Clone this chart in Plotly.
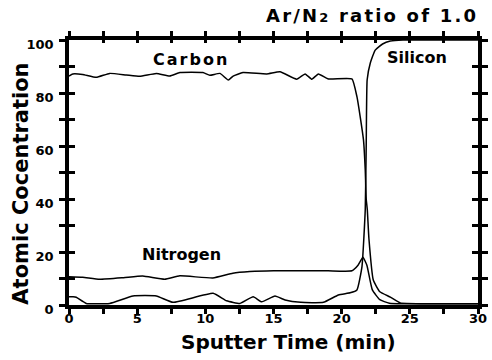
import plotly.graph_objects as go

# ---- data ----
carbon_t = [0, 0.28, 1.0, 2.0, 2.98, 4.2, 5.18, 6.41, 7.39, 8.13, 9.82, 10.33, 11.07, 11.68,
            12.04, 12.76, 14.5, 15.48, 16.7, 17.32, 17.81, 18.29, 19.03, 20.75, 21.12, 21.36,
            21.6, 21.73, 21.8, 21.88, 22.0, 22.32, 22.8, 23.57, 24.3, 26.0, 28.0, 30.0]
carbon_v = [86.4, 87.2, 87.0, 85.9, 87.4, 86.8, 86.3, 87.4, 86.4, 87.7, 87.7, 86.7, 87.4, 84.9,
            86.4, 87.7, 87.2, 88.0, 85.2, 87.2, 85.2, 87.2, 85.3, 85.3, 78.6, 71.0,
            62.3, 50.9, 40.0, 36.0, 25.0, 9.4, 5.0, 3.0, 0.8, 0.5, 0.5, 0.5]

silicon_t = [0, 0.3, 0.53, 1.26, 2.98, 4.69, 6.41, 7.63, 10.57, 11.56, 12.54, 13.51, 14.13,
             15.11, 15.85, 17.0, 18.66, 19.76, 20.62, 21.12, 21.49, 21.73, 21.8, 21.87,
             22.1, 22.46, 23.0, 23.57, 24.5, 30.0]
silicon_v = [3.1, 3.1, 2.9, 0.6, 0.6, 3.4, 3.4, 1.0, 4.4, 1.6, 0.6, 3.1, 1.2,
             3.4, 1.9, 1.0, 1.0, 3.8, 4.6, 5.7, 14.5, 36.0, 60.0, 85.0,
             91.3, 96.2, 98.5, 99.6, 100.0, 100.0]

nitrogen_t = [0, 1.0, 2.24, 4.0, 5.4, 7.02, 8.13, 10.55, 12.02, 13.27, 15.0, 17.0, 19.0,
              20.75, 21.2, 21.56, 21.85, 22.25, 22.8, 23.5, 30.0]
nitrogen_v = [10.7, 10.5, 9.7, 10.3, 10.9, 9.7, 11.0, 10.2, 12.0, 12.6, 12.9, 12.9, 12.9,
              12.9, 15.0, 18.0, 15.0, 5.7, 2.0, 0.7, 0.5]

x_tick_vals = [0, 2.5, 5, 7.5, 10, 12.5, 15, 17.5, 20, 22.5, 25, 27.5, 30]
x_tick_text = ['0', '', '5', '', '10', '', '15', '', '20', '', '25', '', '30']
y_tick_vals = [0, 10, 20, 30, 40, 50, 60, 70, 80, 90, 100]
y_tick_text = ['0', '', '20', '', '40', '', '60', '', '80', '', '100']

series_names = ['Carbon', 'Silicon', 'Nitrogen']

FONT = 'DejaVu Sans'

fig = go.Figure()
for name, t, v in [(series_names[0], carbon_t, carbon_v),
                   (series_names[1], silicon_t, silicon_v),
                   (series_names[2], nitrogen_t, nitrogen_v)]:
    fig.add_trace(go.Scatter(x=t, y=v, mode='lines', name=name,
                             line=dict(color='black', width=1.5, shape='spline', smoothing=0.4),
                             hoverinfo='skip'))

# empty trace that makes the overlay axes (inside ticks) exist
fig.add_trace(go.Scatter(x=[], y=[], xaxis='x2', yaxis='y2', showlegend=False))

tickfont = dict(family=FONT, size=13, color='black', weight='bold')

fig.update_layout(
    template='none',
    width=492, height=360,
    margin=dict(l=69, r=14, t=40, b=55, pad=0, autoexpand=False),
    plot_bgcolor='white', paper_bgcolor='white',
    showlegend=False,
    font=dict(family=FONT, color='black'),
    xaxis=dict(range=[0, 30], tickmode='array', tickvals=x_tick_vals, ticktext=x_tick_text,
               ticks='outside', ticklen=5, tickwidth=2.5, tickcolor='black',
               showline=True, linewidth=3.5, linecolor='black', mirror='ticks',
               showgrid=False, zeroline=False, tickfont=tickfont, ticklabelstandoff=-6,
               automargin=False, fixedrange=True),
    yaxis=dict(range=[0, 100], tickmode='array', tickvals=y_tick_vals, ticktext=y_tick_text,
               ticks='outside', ticklen=6, tickwidth=2.5, tickcolor='black',
               showline=True, linewidth=3.5, linecolor='black', mirror='ticks',
               showgrid=False, zeroline=False, tickfont=tickfont, ticklabelshift=4,
               ticklabelstandoff=3, automargin=False, fixedrange=True),
    xaxis2=dict(range=[0, 30], overlaying='x', anchor='y2', side='top',
                tickmode='array', tickvals=x_tick_vals, showticklabels=False,
                ticks='inside', ticklen=3, tickwidth=2.5, tickcolor='black',
                showline=False, showgrid=False, zeroline=False, automargin=False,
                fixedrange=True),
    yaxis2=dict(range=[0, 100], overlaying='y', anchor='x2', side='left',
                tickmode='array', tickvals=y_tick_vals, showticklabels=False,
                ticks='inside', ticklen=6, tickwidth=2.5, tickcolor='black', mirror='ticks',
                showline=False, showgrid=False, zeroline=False, automargin=False,
                fixedrange=True),
)

bold = dict(family=FONT, color='black', weight='bold')

fig.add_annotation(text='<span style="letter-spacing:2.2px">Ar/N<span style="font-size:13px">2</span> ratio of 1.0</span>',
                   xref='paper', yref='paper', x=1.005, y=1.094, xanchor='right', yanchor='middle',
                   showarrow=False, font=dict(size=18, **bold))
fig.add_annotation(text='Sputter Time (min)', xref='paper', yref='paper',
                   x=0.536, y=-0.14, xanchor='center', yanchor='middle',
                   showarrow=False, font=dict(size=20, **bold))
fig.add_annotation(text='Atomic Cocentration', xref='paper', yref='paper',
                   x=-0.117, y=0.4585, xanchor='center', yanchor='middle', textangle=-90,
                   showarrow=False, font=dict(size=21, **bold))
fig.add_annotation(text='<span style="letter-spacing:2px">' + series_names[0] + '</span>',
                   x=8.93, y=92.8, xref='x', yref='y',
                   showarrow=False, font=dict(size=16, **bold))
fig.add_annotation(text=series_names[1], x=25.5, y=93.4, xref='x', yref='y',
                   showarrow=False, font=dict(size=16, **bold))
fig.add_annotation(text=series_names[2], x=8.24, y=18.9, xref='x', yref='y',
                   showarrow=False, font=dict(size=16, **bold))

fig.write_html('out.html')
